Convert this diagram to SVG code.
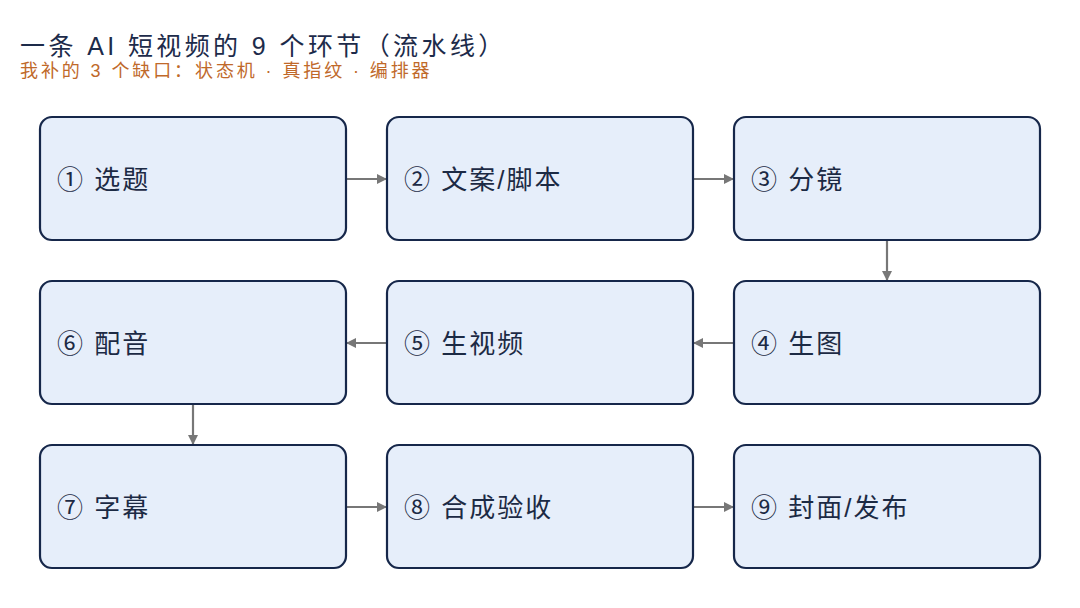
<svg xmlns="http://www.w3.org/2000/svg" width="1080" height="608" viewBox="0 0 1080 608">
<defs>
<marker id="ah" markerWidth="10" markerHeight="10" refX="9" refY="5" orient="auto" markerUnits="userSpaceOnUse">
<path d="M0,0 L10,5 L0,10 z" fill="#777777"/>
</marker>
<style>
.box{fill:#e6eefa;stroke:#16274a;stroke-width:2.2}
.lbl{font-family:"Liberation Sans","Noto Sans CJK SC",sans-serif;font-size:26px;letter-spacing:2px;fill:#1c2a44}
.edge{stroke:#777777;stroke-width:2.2;fill:none;marker-end:url(#ah)}
</style>
</defs>
<rect width="1080" height="608" fill="#ffffff"/>
<text x="20" y="55" font-family="Liberation Sans,Noto Sans CJK SC,sans-serif" font-size="25" letter-spacing="3.4" fill="#1d2b4a">一条 AI 短视频的 9 个环节（流水线）</text>
<text x="20" y="77" font-family="Liberation Sans,Noto Sans CJK SC,sans-serif" font-size="18" letter-spacing="2.9" fill="#c0692a">我补的 3 个缺口：状态机 · 真指纹 · 编排器</text>
<g id="connectors">
<line class="edge" x1="347" y1="179" x2="386" y2="179"/>
<line class="edge" x1="694" y1="179" x2="733" y2="179"/>
<line class="edge" x1="887" y1="241" x2="887" y2="280"/>
<line class="edge" x1="733" y1="343" x2="694" y2="343"/>
<line class="edge" x1="386" y1="343" x2="347" y2="343"/>
<line class="edge" x1="193" y1="405" x2="193" y2="444"/>
<line class="edge" x1="347" y1="507" x2="386" y2="507"/>
<line class="edge" x1="694" y1="507" x2="733" y2="507"/>
</g>
<g id="n1"><rect class="box" x="40" y="117" width="306" height="123" rx="12"/><text class="lbl" x="57" y="189">① 选题</text></g>
<g id="n2"><rect class="box" x="387" y="117" width="306" height="123" rx="12"/><text class="lbl" x="404" y="189">② 文案/脚本</text></g>
<g id="n3"><rect class="box" x="734" y="117" width="306" height="123" rx="12"/><text class="lbl" x="751" y="189">③ 分镜</text></g>
<g id="n4"><rect class="box" x="734" y="281" width="306" height="123" rx="12"/><text class="lbl" x="751" y="353">④ 生图</text></g>
<g id="n5"><rect class="box" x="387" y="281" width="306" height="123" rx="12"/><text class="lbl" x="404" y="353">⑤ 生视频</text></g>
<g id="n6"><rect class="box" x="40" y="281" width="306" height="123" rx="12"/><text class="lbl" x="57" y="353">⑥ 配音</text></g>
<g id="n7"><rect class="box" x="40" y="445" width="306" height="123" rx="12"/><text class="lbl" x="57" y="517">⑦ 字幕</text></g>
<g id="n8"><rect class="box" x="387" y="445" width="306" height="123" rx="12"/><text class="lbl" x="404" y="517">⑧ 合成验收</text></g>
<g id="n9"><rect class="box" x="734" y="445" width="306" height="123" rx="12"/><text class="lbl" x="751" y="517">⑨ 封面/发布</text></g>
</svg>
